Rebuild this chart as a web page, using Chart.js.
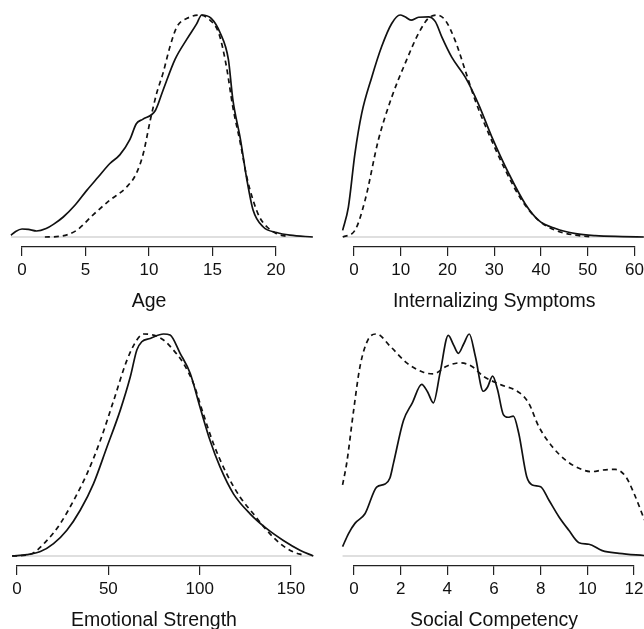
<!DOCTYPE html>
<html lang="en">
<head>
<meta charset="UTF-8" />
<title>Density plots</title>
<script src="https://cdn.jsdelivr.net/npm/chart.js@4.4.0/dist/chart.umd.min.js"></script>
<style>
  body { margin: 0; width: 644px; height: 629px; overflow: hidden; background: #fff; position: relative; }
  .panel { position: absolute; width: 322px; height: 319px; }
</style>
</head>
<body>
<div class="panel" style="left:0;top:0"><canvas id="age" width="322" height="319"></canvas></div>
<div class="panel" style="left:322px;top:0"><canvas id="intern" width="322" height="319"></canvas></div>
<div class="panel" style="left:0;top:319px"><canvas id="emo" width="322" height="319"></canvas></div>
<div class="panel" style="left:322px;top:319px"><canvas id="social" width="322" height="319"></canvas></div>
<script>
// ---- data (density, scaled so each curve peaks at 1) ----

// Age
const ageSolidX = [-0.87, -0.5, 0, 0.5, 1.15, 1.9, 2.5, 3.25, 4.2, 5.1, 6.0, 6.9, 7.7, 8.5, 9.0, 9.5, 10.5, 11.1, 12.05, 12.97, 13.75, 14.15, 14.9, 15.6, 16.25, 16.6, 17.2, 17.7, 18.2, 19.0, 20.05, 21.1, 22.9];
const ageSolidY = [0.008, 0.025, 0.036, 0.034, 0.027, 0.038, 0.058, 0.09, 0.145, 0.21, 0.27, 0.33, 0.37, 0.44, 0.51, 0.53, 0.57, 0.66, 0.80, 0.89, 0.96, 1.0, 0.985, 0.92, 0.80, 0.62, 0.44, 0.26, 0.12, 0.045, 0.02, 0.008, 0];
const ageDashX = [1.8, 3.0, 4.3, 5.6, 6.9, 8.24, 9.0, 9.55, 10.1, 10.6, 11.1, 11.65, 12.2, 13.0, 14.0, 14.8, 15.5, 16.1, 16.6, 17.2, 17.7, 18.2, 18.7, 19.3, 20.05, 20.8];
const ageDashY = [0, 0.003, 0.03, 0.1, 0.165, 0.225, 0.286, 0.376, 0.526, 0.647, 0.737, 0.857, 0.947, 0.985, 1.0, 0.977, 0.917, 0.767, 0.586, 0.42, 0.27, 0.165, 0.09, 0.045, 0.015, 0.003];
const ageTicks = [0, 5, 10, 15, 20];

// Internalizing Symptoms
const intSolidX = [-2.43, -1.2, 0.2, 1.64, 3.8, 5.9, 8.07, 9.86, 10.9, 12.2, 13.8, 15.9, 17.4, 18.8, 20.9, 23.8, 26.6, 29.5, 33.1, 36.6, 39.5, 43.1, 47.4, 51.6, 57.4, 62];
const intSolidY = [0.03, 0.135, 0.376, 0.556, 0.72, 0.857, 0.962, 1.0, 0.992, 0.977, 0.99, 0.992, 0.97, 0.90, 0.81, 0.72, 0.60, 0.45, 0.286, 0.15, 0.075, 0.038, 0.015, 0.006, 0.002, 0];
const intDashX = [-2.4, 0.2, 2.36, 5.2, 8.07, 10.9, 13.8, 15.9, 17.7, 19.5, 21.6, 23.8, 25.9, 28.8, 32.4, 35.9, 39.5, 43.1, 47.4, 51];
const intDashY = [0, 0.03, 0.165, 0.436, 0.63, 0.78, 0.917, 0.985, 1.0, 0.977, 0.887, 0.75, 0.617, 0.466, 0.30, 0.165, 0.075, 0.03, 0.008, 0];
const intTicks = [0, 10, 20, 30, 40, 50, 60];

// Emotional Strength
const emoSolidX = [-2.7, 5.5, 12.8, 20, 27.3, 34.6, 41.9, 49.2, 56.5, 62, 65.6, 68.3, 72.9, 80.2, 83.8, 89.3, 94.8, 100.2, 105.7, 111.2, 118.5, 127.6, 136.7, 145.8, 154.9, 162.2];
const emoSolidY = [0, 0.006, 0.02, 0.056, 0.116, 0.206, 0.326, 0.49, 0.656, 0.806, 0.928, 0.965, 0.98, 1.0, 0.995, 0.913, 0.823, 0.67, 0.52, 0.40, 0.28, 0.19, 0.123, 0.07, 0.026, 0];
const emoDashX = [-2.7, 7.3, 16.4, 23.7, 31, 38.3, 45.6, 52.9, 60.1, 65.6, 69.3, 74.7, 80.2, 85.6, 91.1, 96.6, 102, 107.5, 114.8, 122.1, 129.4, 136.7, 144, 151.3, 156.7];
const emoDashY = [0, 0.008, 0.07, 0.146, 0.25, 0.37, 0.52, 0.70, 0.88, 0.973, 1.0, 0.995, 0.973, 0.928, 0.868, 0.777, 0.64, 0.507, 0.37, 0.266, 0.19, 0.116, 0.056, 0.018, 0.004];
const emoTicks = [0, 50, 100, 150];

// Social Competency
const socSolidX = [-0.49, -0.24, 0.04, 0.47, 0.97, 1.33, 1.54, 1.69, 2.12, 2.5, 2.9, 3.15, 3.4, 3.69, 4.04, 4.27, 4.47, 4.7, 4.94, 5.2, 5.54, 5.72, 5.94, 6.15, 6.4, 6.6, 6.83, 7.06, 7.4, 7.64, 8.0, 8.35, 8.78, 9.2, 9.64, 10.07, 10.64, 11.36, 12.45];
const socSolidY = [0.042, 0.10, 0.147, 0.19, 0.31, 0.324, 0.351, 0.417, 0.61, 0.69, 0.773, 0.74, 0.69, 0.826, 0.994, 0.95, 0.913, 0.955, 1.0, 0.9, 0.742, 0.76, 0.81, 0.75, 0.637, 0.625, 0.63, 0.553, 0.358, 0.32, 0.312, 0.252, 0.177, 0.117, 0.06, 0.053, 0.024, 0.012, 0.002];
const socDashX = [-0.49, -0.31, -0.03, 0.26, 0.61, 0.97, 1.54, 2.26, 2.97, 3.4, 3.97, 4.54, 5.04, 5.54, 6.26, 7.1, 7.49, 7.92, 8.5, 9.07, 9.64, 10.2, 10.64, 11.2, 11.65, 12.0, 12.45];
const socDashY = [0.32, 0.42, 0.645, 0.855, 0.976, 1.0, 0.946, 0.87, 0.828, 0.82, 0.855, 0.87, 0.855, 0.81, 0.773, 0.735, 0.688, 0.583, 0.492, 0.432, 0.395, 0.38, 0.387, 0.39, 0.357, 0.282, 0.162];
const socTicks = [0, 2, 4, 6, 8, 10, 12];

// ---------------------------------------------------------------------------

const pts = (xs, ys) => xs.map((x, i) => ({ x: x, y: ys[i] }));

// chart area = span of the ticks (R style axis), curves run past it unclipped.
// min/max set in afterDataLimits so chart.js does not trim points outside the range
function makeChart(id, title, sx, sy, dx, dy, ticks, padL, padR) {
  const ctx = document.getElementById(id).getContext('2d');
  const lo = Math.min(sx[0], dx[0]);
  const hi = Math.max(sx[sx.length - 1], dx[dx.length - 1]);
  return new Chart(ctx, {
    type: 'line',
    data: {
      datasets: [
        { data: pts(sx, sy), borderColor: '#111', borderWidth: 1.7, clip: false, order: 1 },
        { data: pts(dx, dy), borderColor: '#111', borderWidth: 1.7, borderDash: [5, 4], clip: false, order: 2 },
        { data: [{ x: lo, y: 0 }, { x: hi, y: 0 }], borderColor: '#d4d4d4', borderWidth: 1.3, clip: false, order: 3 }
      ]
    },
    options: {
      responsive: false,
      animation: false,
      events: [],
      layout: { padding: { top: 15, left: padL, right: padR, bottom: 0 } },
      elements: {
        point: { radius: 0 },
        line: { cubicInterpolationMode: 'monotone', fill: false }
      },
      plugins: { legend: { display: false }, tooltip: { enabled: false } },
      scales: {
        x: {
          type: 'linear',
          bounds: 'data',
          afterDataLimits: s => { s.min = ticks[0]; s.max = ticks[ticks.length - 1]; },
          border: { display: true, color: '#222', width: 1.2 },
          grid: { drawOnChartArea: false, drawTicks: true, tickLength: 9, color: '#222', lineWidth: 1.2 },
          afterBuildTicks: s => { s.ticks = ticks.map(v => ({ value: v })); },
          afterFit: s => { s.height = 72; s.paddingLeft = 0; s.paddingRight = 0; },
          ticks: {
            callback: v => String(v),
            color: '#111',
            padding: 4,
            maxRotation: 0,
            autoSkip: false,
            font: { family: 'Liberation Sans', size: 17 }
          },
          title: {
            display: true,
            text: title,
            color: '#111',
            padding: { top: 0, bottom: 6 },
            font: { family: 'Liberation Sans', size: 19.5 }
          }
        },
        y: { display: false, min: -0.0451, max: 1 }
      }
    }
  });
}

makeChart('age', 'Age', ageSolidX, ageSolidY, ageDashX, ageDashY, ageTicks, 22, 46);
makeChart('intern', 'Internalizing Symptoms', intSolidX, intSolidY, intDashX, intDashY, intTicks, 32, 9.5);
makeChart('emo', 'Emotional Strength', emoSolidX, emoSolidY, emoDashX, emoDashY, emoTicks, 17, 31);
makeChart('social', 'Social Competency', socSolidX, socSolidY, socDashX, socDashY, socTicks, 32, 10);
</script>
</body>
</html>
